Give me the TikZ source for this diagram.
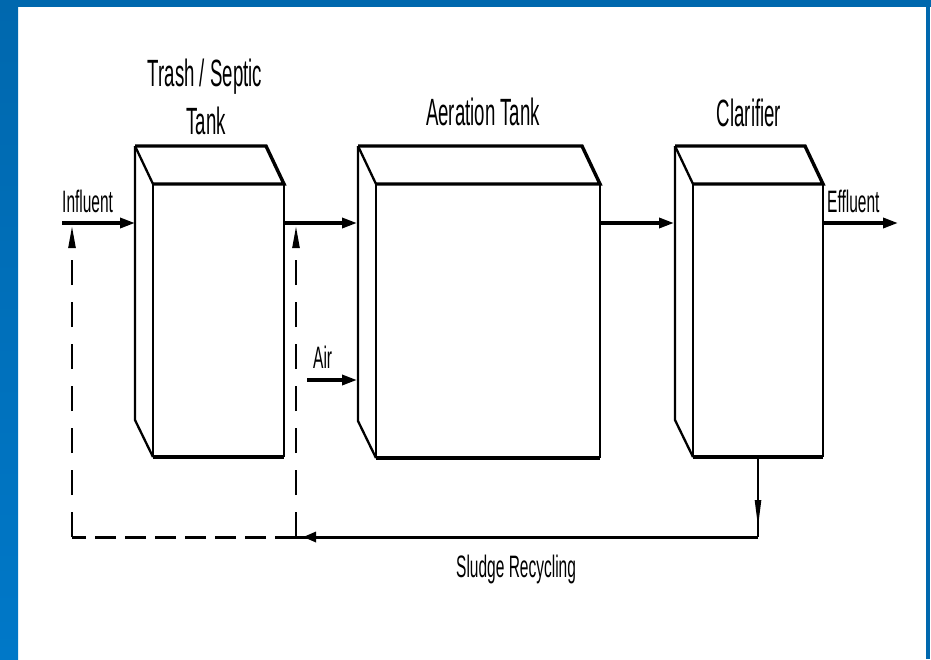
\documentclass[tikz,border=0pt]{standalone}
\usepackage{fontspec}
\newfontfamily\condfontbig[FakeStretch=0.49]{Liberation Sans}
\newfontfamily\condfontsmall[FakeStretch=0.5]{Liberation Sans}
\usetikzlibrary{arrows.meta,calc}
\definecolor{frameblue}{RGB}{0,104,174}
\definecolor{frameblueB}{RGB}{0,120,200}
\newcommand\drawtank[1]{%
  \draw[thin line] (#1.north west) -- (#1.south west);
  \draw[thin line] (#1.north east) -- (#1.south east);
  \draw[thin line, line join=round] ($(#1.north west)+(-18,-38)$) -- ($(#1.south west)+(-18,-37)$) -- (#1.south west);
  \draw[thin line] ($(#1.north west)+(-18,-38)$) -- (#1.north west);
  \draw[thick line, line join=miter] ($(#1.north west)+(-18,-38)$) -- ($(#1.north east)+(-18,-38)$) -- (#1.north east) -- (#1.north west);
  \draw[thick line] (#1.south west) -- (#1.south east);
}
\begin{document}
\begin{tikzpicture}[x=1pt,y=-1pt,
  thick line/.style={line width=3.4pt},
  thin line/.style={line width=2.3pt},
  arr/.style={line width=3.4pt,-{Triangle[length=15pt,width=10pt]}},
  bigl/.style={font=\condfontbig\fontsize{38}{40}\selectfont, inner sep=0pt, anchor=base},
  smalll/.style={font=\condfontsmall\fontsize{31}{33}\selectfont, inner sep=0pt, anchor=base west},
  face/.style={rectangle, inner sep=0pt, outer sep=0pt}]
\useasboundingbox (0,0) rectangle (931,659);
\fill[white] (0,0) rectangle (931,659);
% frame
\shade[top color=frameblue, bottom color=frameblueB] (0,0) rectangle (18,659);
\fill[frameblue] (0,0) rectangle (931,7);
\fill[frameblue] (926,0) rectangle (930,659);
% tanks (front faces)
\node[face, minimum width=131pt, minimum height=273pt] (trash) at (218.5,320.5) {};
\node[face, minimum width=224pt, minimum height=274pt] (aer) at (488,321) {};
\node[face, minimum width=130pt, minimum height=273pt] (clar) at (758,320.5) {};
\drawtank{trash}
\drawtank{aer}
\drawtank{clar}
% ports
\coordinate (inS) at (62,223);
\coordinate (trashIn) at (135,223);
\coordinate (aerIn) at (357,223);
\coordinate (clarIn) at (674,223);
\coordinate (effEnd) at (898,223);
\coordinate (airS) at (307,380);
\coordinate (aerAir) at (357,380);
\coordinate (sc) at (758,537);
\coordinate (rc) at (296,537);
\coordinate (lc) at (72,537);
\coordinate (lTop) at (72,226);
\coordinate (rTop) at (296,226);
% flow arrows
\draw[arr] (inS) -- (trashIn);
\draw[arr] (trash.east |- inS) -- (aerIn);
\draw[arr] (aer.east |- inS) -- (clarIn);
\draw[arr] (clar.east |- inS) -- (effEnd);
\draw[arr] (airS) -- (aerAir);
% sludge recycling
\draw[thin line] (clar.south) -- (sc);
\draw[thin line, -{Triangle[length=28pt,width=6pt]}] (clar.south) -- ($(clar.south)+(0,71)$);
\draw[line width=3pt] (sc) -- (rc);
\draw[line width=3pt, -{Triangle[length=13pt,width=10pt]}] (sc) -- ($(rc)+(7,0)$);
\draw[line width=3pt, dash pattern=on 21pt off 9pt] (rc) -- (lc);
\draw[thin line, dash pattern=on 25pt off 17pt, -{Triangle[length=22pt,width=7pt]}] (lc) -- (lTop);
\draw[thin line, dash pattern=on 25pt off 17pt, -{Triangle[length=22pt,width=7pt]}] (rc) -- (rTop);
% labels
\node[bigl] (l1) at (205,86) {Trash / Septic};
\node[bigl] (l2) at (206,134) {Tank};
\node[bigl] (l3) at (483,125) {Aeration Tank};
\node[bigl] (l4) at (749,126) {Clarifier};
\node[smalll] (l5) at (62,212) {Influent};
\node[smalll] (l6) at (827,212) {Effluent};
\node[smalll] (l7) at (313,368) {Air};
\node[smalll] (l8) at (456,577) {Sludge Recycling};
\end{tikzpicture}
\end{document}
